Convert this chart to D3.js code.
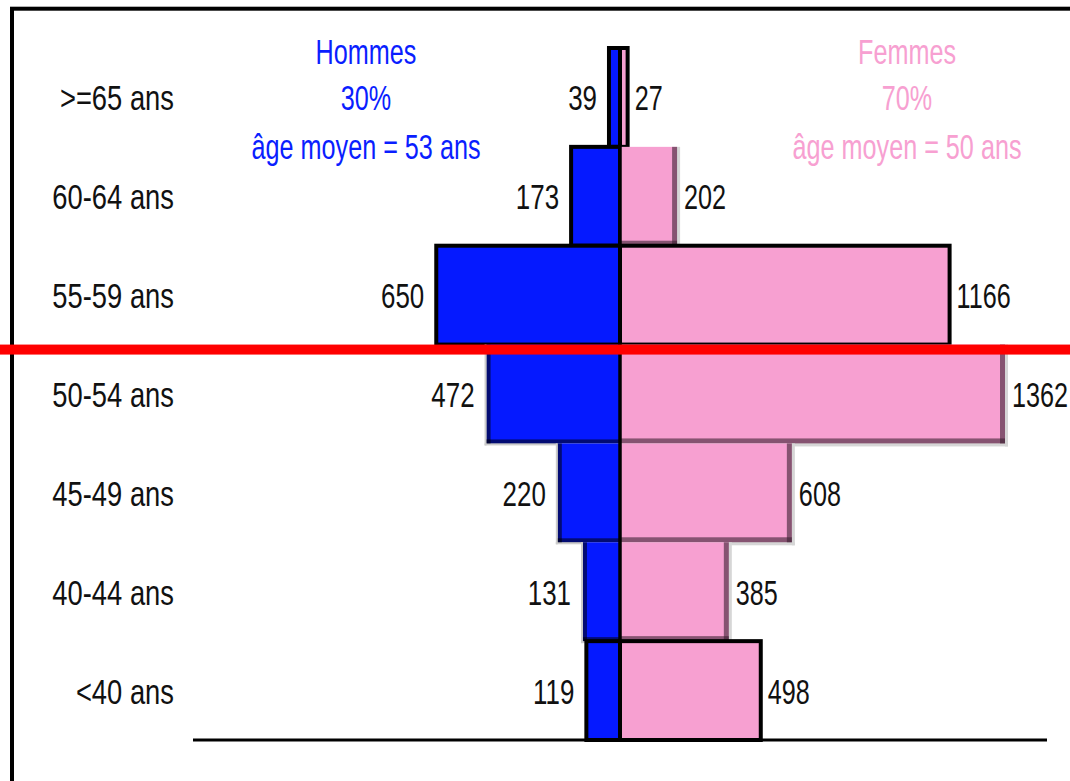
<!DOCTYPE html>
<html>
<head>
<meta charset="utf-8">
<script src="https://cdn.jsdelivr.net/npm/d3@7"></script>
<style>
  body { margin: 0; background: #fff; }
  svg { display: block; }
  text { font-family: "Liberation Sans", Arial, sans-serif; }
</style>
</head>
<body>
<svg></svg>
<script>
// age groups, top to bottom
let ages = [">=65 ans", "60-64 ans", "55-59 ans", "50-54 ans", "45-49 ans", "40-44 ans", "<40 ans"];
let hommes = [39, 173, 650, 472, 220, 131, 119];
let femmes = [27, 202, 1166, 1362, 608, 385, 498];
let hommesHeader = ["Hommes", "30%", "âge moyen = 53 ans"];
let femmesHeader = ["Femmes", "70%", "âge moyen = 50 ans"];

let width = 1070;
let height = 781;
let blue = "#0519ff";
let pink = "#f7a0d1";

// which bars are drawn with a black outline (others get a soft shadow)
let outlinedMen = [">=65 ans", "60-64 ans", "55-59 ans", "<40 ans"];
let outlinedWomen = [">=65 ans", "55-59 ans", "<40 ans"];

let svg = d3.select("svg").attr("width", width).attr("height", height);

let xScale = d3.scaleLinear().domain([-1362, 1362]).range([235, 1005]);
let yScale = d3.scaleBand().domain(ages).range([48, 740]).padding(0);

let rows = ages.map((a, i) => ({ age: a, h: hommes[i], f: femmes[i] }));

// frame (cut by the right and bottom edges)
svg.append("rect")
  .attr("x", 12).attr("y", 8.7)
  .attr("width", 1200).attr("height", 900)
  .attr("fill", "none").attr("stroke", "#000").attr("stroke-width", 4);

let bars = svg.append("g");

// men bars
rows.forEach((d) => {
  let x0 = xScale(-d.h), x1 = xScale(0);
  let y0 = yScale(d.age), bh = yScale.bandwidth();
  let outlined = outlinedMen.includes(d.age);
  bars.append("rect")
    .attr("x", x0).attr("y", y0)
    .attr("width", x1 - x0).attr("height", bh)
    .attr("fill", blue)
    .attr("stroke", outlined ? "#000" : "none")
    .attr("stroke-width", 4);
  if (!outlined) {
    // soft shadow on the outer side and bottom
    bars.append("rect").attr("x", x0 - 2).attr("y", y0).attr("width", 2).attr("height", bh + 2).attr("fill", "#ccc");
    bars.append("rect").attr("x", x0 - 2).attr("y", y0 + bh).attr("width", x1 - x0 + 2).attr("height", 2).attr("fill", "#ccc");
    bars.append("rect").attr("x", x0).attr("y", y0).attr("width", 4).attr("height", bh).attr("fill", "#000").attr("opacity", 0.55);
    bars.append("rect").attr("x", x0).attr("y", y0 + bh - 4).attr("width", x1 - x0).attr("height", 4).attr("fill", "#000").attr("opacity", 0.55);
  }
});

// women bars
rows.forEach((d) => {
  let x0 = xScale(0), x1 = xScale(d.f);
  let y0 = yScale(d.age), bh = yScale.bandwidth();
  let outlined = outlinedWomen.includes(d.age);
  bars.append("rect")
    .attr("x", x0).attr("y", y0)
    .attr("width", x1 - x0).attr("height", bh)
    .attr("fill", pink)
    .attr("stroke", outlined ? "#000" : "none")
    .attr("stroke-width", 4);
  if (!outlined) {
    bars.append("rect").attr("x", x1).attr("y", y0).attr("width", 3).attr("height", bh + 3).attr("fill", "#d6d6d6");
    bars.append("rect").attr("x", x0).attr("y", y0 + bh).attr("width", x1 - x0 + 3).attr("height", 3).attr("fill", "#d6d6d6");
    bars.append("rect").attr("x", x1 - 5).attr("y", y0).attr("width", 5).attr("height", bh).attr("fill", "#3a2030").attr("opacity", 0.6);
    bars.append("rect").attr("x", x0).attr("y", y0 + bh - 5).attr("width", x1 - x0).attr("height", 5).attr("fill", "#3a2030").attr("opacity", 0.6);
  }
});

// centre divider
svg.append("line")
  .attr("x1", xScale(0)).attr("x2", xScale(0))
  .attr("y1", yScale(ages[0])).attr("y2", yScale(ages[ages.length - 1]) + yScale.bandwidth())
  .attr("stroke", "#000").attr("stroke-width", 3.5);

// base line
svg.append("line")
  .attr("x1", 193).attr("x2", 1047)
  .attr("y1", 740).attr("y2", 740)
  .attr("stroke", "#000").attr("stroke-width", 3);

// red line between 55-59 and 50-54
svg.append("rect")
  .attr("x", 0).attr("y", yScale("50-54 ans"))
  .attr("width", width).attr("height", 10)
  .attr("fill", "#ff0000");

// narrow text helper
let narrowText = (x, y, str, anchor, color, sx) => {
  svg.append("text")
    .attr("transform", "translate(" + x + "," + y + ") scale(" + sx + ",1)")
    .attr("text-anchor", anchor)
    .attr("font-size", 36)
    .attr("fill", color)
    .text(str);
};

// age labels
rows.forEach((d) => {
  let cy = yScale(d.age) + yScale.bandwidth() / 2 + 13;
  narrowText(174, cy, d.age, "end", "#111", 0.76);
  narrowText(xScale(-d.h) - 12, cy, d.h, "end", "#111", 0.72);
  narrowText(xScale(d.f) + 7, cy, d.f, "start", "#111", 0.7);
});

// headers
let headerY = [64, 110, 159];
hommesHeader.forEach((t, i) => narrowText(366, headerY[i], t, "middle", "#0a1eff", 0.7));
femmesHeader.forEach((t, i) => narrowText(907, headerY[i], t, "middle", pink, 0.7));
</script>
</body>
</html>
